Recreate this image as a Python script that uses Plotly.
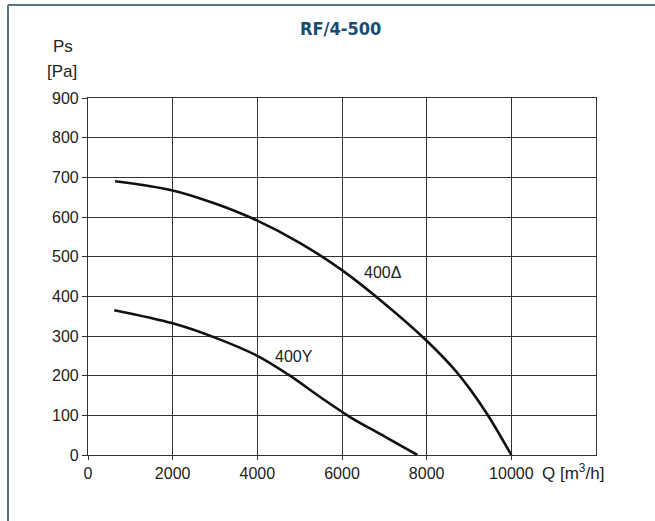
import plotly.graph_objects as go

# fan curves
q_delta = [640, 2000, 3000, 4000, 5000, 6000, 7000, 8000, 8700, 9400, 10000]
ps_delta = [690, 667, 634, 591, 535, 466, 382, 288, 210, 108, 0]

q_star = [620, 2000, 3000, 4000, 4770, 5500, 6200, 7000, 7780]
ps_star = [365, 332, 296, 250, 200, 145, 95, 47, 0]

x_ticks = [0, 2000, 4000, 6000, 8000, 10000]
x_labels = ["0", "2000", "4000", "6000", "8000", "10000"]
y_ticks = [0, 100, 200, 300, 400, 500, 600, 700, 800, 900]

W, H = 655, 521
L, R, T, B = 88, 59, 98, 66
pw, ph = W - L - R, H - T - B

def px(x):
    return (x - L) / pw

def py(y):
    return (H - B - y) / ph

font = "Liberation Sans, Arial, sans-serif"
text_color = "#222222"
line_style = dict(color="#111111", width=2.6, shape="spline", smoothing=0.9)

fig = go.Figure()
fig.add_trace(go.Scatter(x=q_delta, y=ps_delta, mode="lines", line=line_style,
                         hoverinfo="skip"))
fig.add_trace(go.Scatter(x=q_star, y=ps_star, mode="lines", line=line_style,
                         hoverinfo="skip"))

fig.update_layout(
    width=W, height=H,
    margin=dict(l=L, r=R, t=T, b=B, pad=0),
    paper_bgcolor="white", plot_bgcolor="white",
    showlegend=False,
    font=dict(family=font, size=16, color=text_color),
)
fig.update_xaxes(range=[0, 12000], tickvals=x_ticks, ticktext=x_labels,
                 ticks="outside", ticklen=4, tickfont=dict(size=16),
                 tickcolor="#333333", showgrid=True, gridcolor="#333333", gridwidth=1.2,
                 showline=True, linecolor="#333333", linewidth=1.2, mirror=True,
                 zeroline=False, fixedrange=True)
fig.update_yaxes(range=[0, 900], tickvals=y_ticks, ticks="outside", ticklen=5,
                 tickfont=dict(size=16),
                 tickcolor="#333333", showgrid=True, gridcolor="#333333", gridwidth=1.2,
                 showline=True, linecolor="#333333", linewidth=1.2, mirror=True,
                 zeroline=False, fixedrange=True)

def note(x, y, text, size=16, xref="x", yref="y", xanchor="center", **kw):
    fig.add_annotation(x=x, y=y, xref=xref, yref=yref, text=text, showarrow=False,
                       xanchor=xanchor, yanchor="middle",
                       font=kw.get("font", dict(size=size, color=text_color)))

# curve labels
note(6977, 460, "400\u0394")
note(4864, 249, "400Y")

# axis titles and chart title
note(px(63), py(46), "Ps", 17, "paper", "paper")
note(px(62), py(71), "[Pa]", 17, "paper", "paper")
note(px(540), py(472), "Q [m<sup>3</sup>/h]", 17, "paper", "paper", xanchor="left")
note(px(340), py(28), "<b>RF/4-500</b>", xref="paper", yref="paper",
     font=dict(family="DejaVu Sans Condensed, Liberation Sans Narrow, Liberation Sans, sans-serif",
               size=18, color="#1b4a72"))

# frame around the sheet (top and left edges visible)
fig.add_shape(type="line", xref="paper", yref="paper",
              x0=px(8), y0=py(H + 5), x1=px(8), y1=py(5),
              line=dict(color="#5a7685", width=2))
fig.add_shape(type="line", xref="paper", yref="paper",
              x0=px(8), y0=py(5), x1=px(W + 5), y1=py(5),
              line=dict(color="#5a7685", width=2))

fig.write_html("out.html", config=dict(displayModeBar=False),
               post_script="document.body.style.margin='0';document.body.style.overflow='hidden';")
